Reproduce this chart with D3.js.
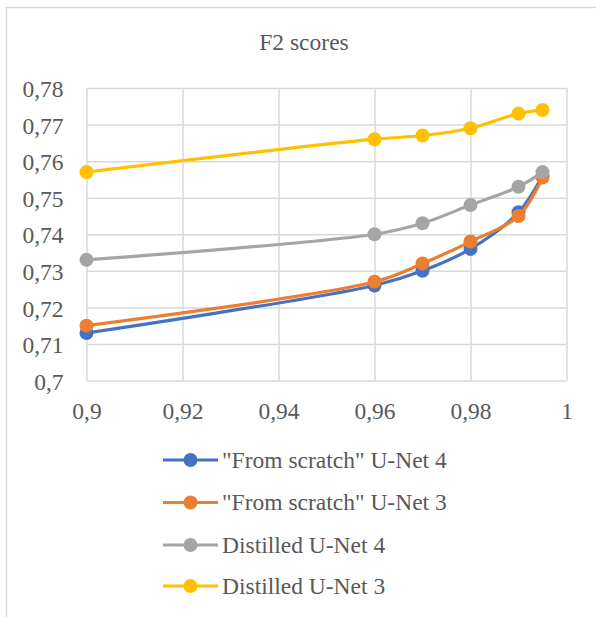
<!DOCTYPE html>
<html><head><meta charset="utf-8">
<script src="https://cdn.jsdelivr.net/npm/d3@7/dist/d3.min.js"></script>
<style>html,body{margin:0;padding:0;background:#fff;}</style>
</head><body>
<div id="wrap"><svg id="c" width="596" height="617"></svg></div>
<script>
const xValues = [0.9, 0.96, 0.97, 0.98, 0.99, 0.995];
const seriesNames = ['"From scratch" U-Net 4', '"From scratch" U-Net 3', 'Distilled U-Net 4', 'Distilled U-Net 3'];
const scratch4 = [0.713, 0.726, 0.730, 0.736, 0.746, 0.756];
const scratch3 = [0.715, 0.727, 0.732, 0.738, 0.745, 0.7555];
const distilled4 = [0.733, 0.740, 0.743, 0.748, 0.753, 0.757];
const distilled3 = [0.757, 0.766, 0.767, 0.769, 0.773, 0.774];
const colors = ["#4472C4", "#ED7D31", "#A5A5A5", "#FFC000"];
const xTicks = [0.9, 0.92, 0.94, 0.96, 0.98, 1];
const yTicks = [0.7, 0.71, 0.72, 0.73, 0.74, 0.75, 0.76, 0.77, 0.78];
const title = "F2 scores";

const FS = 23.5;
const TXT = "#595959";
const FONT = "Liberation Serif";
const allSeries = [scratch4, scratch3, distilled4, distilled3];
const svg = d3.select("#c");
const fmt = v => String(+v.toFixed(3)).replace(".", ",");

svg.append("path").attr("d", "M6.5,617 V7.5 H596").attr("fill", "none").attr("stroke", "#d9d9d9").attr("stroke-width", 1.5);

const x = d3.scaleLinear().domain([0.9, 1]).range([86.5, 566.5]);
const y = d3.scaleLinear().domain([0.7, 0.78]).range([380.5, 88]);

const g = svg.append("g");
g.append("g").attr("transform", "translate(0,380.5)")
  .call(d3.axisBottom(x).tickValues(xTicks).tickSize(-(380.5-88)).tickFormat(""))
  .call(a => { a.select(".domain").remove(); a.selectAll("text").remove(); a.selectAll("line").attr("stroke", "#d9d9d9").attr("stroke-width", 1.5); });
g.append("g").attr("transform", "translate(86.5,0)")
  .call(d3.axisLeft(y).tickValues(yTicks).tickSize(-(566.5-86.5)).tickFormat(""))
  .call(a => { a.select(".domain").remove(); a.selectAll("text").remove(); a.selectAll("line").attr("stroke", "#d9d9d9").attr("stroke-width", 1.5); });

const xa = svg.append("g").attr("transform", "translate(0,380.5)")
  .call(d3.axisBottom(x).tickValues(xTicks).tickSize(0).tickPadding(0).tickFormat(fmt));
xa.select(".domain").remove();
xa.attr("font-family", FONT).attr("font-size", FS);
xa.selectAll("text").attr("font-family", FONT).attr("font-size", FS).attr("fill", TXT).attr("y", 38).attr("dy", null);
const ya = svg.append("g").attr("transform", "translate(86.5,0)")
  .call(d3.axisLeft(y).tickValues(yTicks).tickSize(0).tickPadding(23).tickFormat(fmt));
ya.select(".domain").remove();
ya.attr("font-family", FONT).attr("font-size", FS);
ya.selectAll("text").attr("font-family", FONT).attr("font-size", FS).attr("fill", TXT).attr("dy", null).attr("y", 8.7);

svg.append("text").attr("x", 304).attr("y", 49.5).attr("text-anchor", "middle")
  .attr("font-family", FONT).attr("font-size", FS).attr("fill", TXT).text(title);

const line = d3.line().x((d, i) => x(xValues[i])).y(d => y(d)).curve(d3.curveCatmullRom.alpha(0.5));
allSeries.forEach((s, k) => {
  const sg = svg.append("g");
  sg.append("path").attr("d", line(s)).attr("fill", "none").attr("stroke", colors[k]).attr("stroke-width", 3.2).attr("stroke-linejoin", "round");
  sg.selectAll("circle").data(s).join("circle")
    .attr("cx", (d, i) => x(xValues[i])).attr("cy", d => y(d)).attr("r", 7).attr("fill", colors[k]);
});

const ly = [460, 502.5, 545, 586];
seriesNames.forEach((n, k) => {
  const lg = svg.append("g").attr("transform", `translate(0,${ly[k]})`);
  lg.append("line").attr("x1", 163).attr("x2", 218).attr("y1", 0).attr("y2", 0).attr("stroke", colors[k]).attr("stroke-width", 3.2);
  lg.append("circle").attr("cx", 190.5).attr("cy", 0).attr("r", 7).attr("fill", colors[k]);
  lg.append("text").attr("x", 222).attr("y", 7.5).attr("font-family", FONT).attr("font-size", FS).attr("fill", TXT).text(n);
});

// re-parse the finished SVG through the HTML parser
const wrap = document.getElementById("wrap");
wrap.innerHTML = wrap.innerHTML;
</script>
</body></html>
